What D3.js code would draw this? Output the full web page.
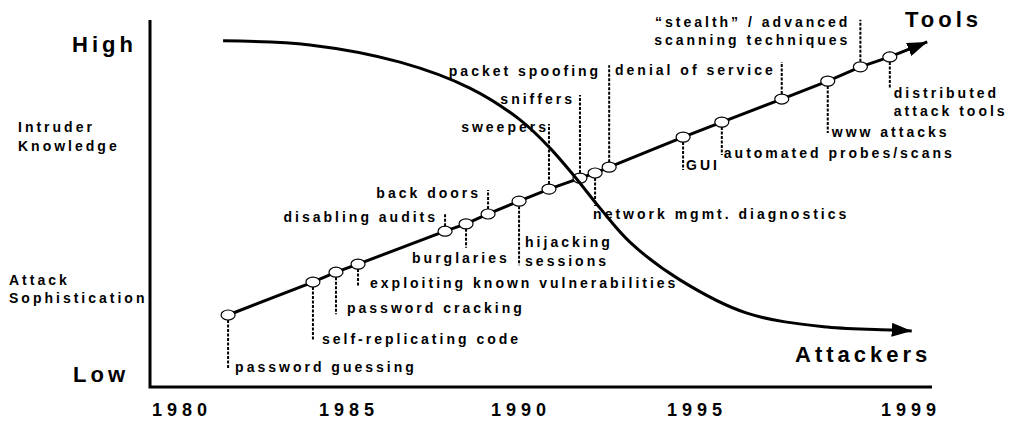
<!DOCTYPE html>
<html>
<head>
<meta charset="utf-8">
<script src="https://cdn.jsdelivr.net/npm/d3@7"></script>
<style>
body { margin: 0; background: #fff; }
text { font-family: "Liberation Sans", Arial, sans-serif; font-weight: bold; fill: #000; }
</style>
</head>
<body>
<div id="chart"></div>
<script>
// tick labels on the time axis
var tickYears = [1980, 1985, 1990, 1995, 1999];
var tickLabels = ["1980", "1985", "1990", "1995", "1999"];

// attack tools (sophistication rises over time)
var eventNames = [
	"password guessing",
	"self-replicating code",
	"password cracking",
	"exploiting known vulnerabilities",
	"disabling audits",
	"burglaries",
	"back doors",
	"hijacking\nsessions",
	"sweepers",
	"sniffers",
	"network mgmt. diagnostics",
	"packet spoofing",
	"GUI",
	"automated probes/scans",
	"denial of service",
	"www attacks",
	"\u201Cstealth\u201D / advanced\nscanning techniques",
	"distributed\nattack tools"
];
var eventYears = [1981.47, 1984.01, 1984.70, 1985.35, 1987.88, 1988.49, 1989.13, 1990.03, 1990.88,
	1991.76, 1992.19, 1992.59, 1994.69, 1995.52, 1996.64, 1997.50, 1998.11, 1998.66];
var eventLevels = [1.94, 2.84, 3.11, 3.33, 4.23, 4.43, 4.70, 5.05, 5.38,
	5.68, 5.82, 5.98, 6.80, 7.21, 7.84, 8.33, 8.72, 8.99];

var toolsEndYear = 1999.36;
var toolsEndLevel = 9.40;

// intruder knowledge (falls over time)
var attackerYears = [1981.32, 1983.92, 1986.57, 1988.60, 1990.06, 1990.91, 1991.62, 1992.33,
	1993.18, 1994.60, 1995.99, 1997.49, 1998.72, 1999.07];
var attackerLevels = [9.43, 9.32, 8.85, 8.14, 7.27, 6.50, 5.71, 4.86,
	3.93, 2.90, 1.99, 1.61, 1.53, 1.50];

// label placement relative to each marker: line end, text offset, anchor
var labelLayout = [
	{line: 54, dx: 7, dy: 57, anchor: "start"},
	{line: 58, dx: 9, dy: 62, anchor: "start"},
	{line: 42, dx: 11, dy: 41, anchor: "start"},
	{line: 23, dx: 12, dy: 24, anchor: "start"},
	{line: -17, dx: -7, dy: -9, anchor: "end"},
	{line: 24, dx: -54, dy: 39, anchor: "start"},
	{line: -24, dx: -7, dy: -16, anchor: "end"},
	{line: 64, dx: 6, dy: 46, anchor: "start"},
	{line: -65, dx: 0, dy: -57, anchor: "end"},
	{line: -83, dx: -5, dy: -74, anchor: "end"},
	{line: 33, dx: -2, dy: 46, anchor: "start"},
	{line: -102, dx: -8, dy: -91, anchor: "end"},
	{line: 33, dx: 3, dy: 33, anchor: "start"},
	{line: 33, dx: 2, dy: 36, anchor: "start"},
	{line: -37, dx: -6, dy: -24, anchor: "end"},
	{line: 52, dx: 4, dy: 56, anchor: "start"},
	{line: -47, dx: -10, dy: -40, anchor: "end"},
	{line: 31, dx: 4, dy: 41, anchor: "start"}
];

var svgWidth = 1009;
var svgHeight = 423;

var svg = d3.select("#chart")
	.append("svg")
	.attr("width", svgWidth)
	.attr("height", svgHeight);

var defs = svg.append("defs");
defs.append("marker")
	.attr("id", "arrow")
	.attr("viewBox", "0 0 20 14")
	.attr("refX", 20)
	.attr("refY", 7)
	.attr("markerUnits", "userSpaceOnUse")
	.attr("markerWidth", 20)
	.attr("markerHeight", 14)
	.attr("orient", "auto")
	.append("path")
	.attr("d", "M0,0 L20,7 L0,14 Z")
	.attr("fill", "#000");

// piecewise time scale, the last period is drawn wider
var xScale = d3.scaleLinear()
	.domain(tickYears)
	.range([179, 346, 518, 694, 908]);

var yScale = d3.scaleLinear()
	.domain([0, 10])
	.range([386, 20]);

// axis lines
svg.append("path")
	.attr("d", "M150,20 L150,387 L932,387")
	.attr("fill", "none")
	.attr("stroke", "#000")
	.attr("stroke-width", 3);

// year labels
var bottomAxis = d3.axisBottom(xScale)
	.tickValues(tickYears)
	.tickFormat((d, i) => tickLabels[i])
	.tickSize(0)
	.tickPadding(0);

var xAxis = svg.append("g")
	.attr("transform", "translate(0, 403)")
	.call(bottomAxis);
xAxis.select(".domain").remove();
xAxis.selectAll("text")
	.attr("dy", "0.71em")
	.style("font-family", "'Liberation Sans', Arial, sans-serif")
	.style("font-weight", "bold")
	.style("font-size", "18px")
	.style("letter-spacing", "5px")
	.attr("dx", "2.5px");

// left side labels
function addText(x, y, str, size, spacing, anchor) {
	return svg.append("text")
		.attr("x", x)
		.attr("y", y)
		.attr("text-anchor", anchor || "start")
		.style("font-size", size + "px")
		.style("letter-spacing", spacing + "px")
		.text(str);
}

addText(137, 52, "High", 22, 4, "end");
addText(73, 382, "Low", 22, 4);
addText(18, 132, "Intruder", 14, 3);
addText(18, 151, "Knowledge", 14, 3);
addText(9, 285, "Attack", 14, 3);
addText(9, 303, "Sophistication", 14, 3);
addText(905, 27, "Tools", 22, 4);
addText(795, 362, "Attackers", 22, 4);

// tools line
var events = eventNames.map((name, i) => ({
	name: name,
	year: eventYears[i],
	level: eventLevels[i],
	layout: labelLayout[i]
}));

var toolsPoints = events.map(d => [xScale(d.year), yScale(d.level)]);
toolsPoints.push([xScale(toolsEndYear), yScale(toolsEndLevel)]);

svg.append("path")
	.attr("d", d3.line()(toolsPoints))
	.attr("fill", "none")
	.attr("stroke", "#000")
	.attr("stroke-width", 3)
	.attr("marker-end", "url(#arrow)");

// dashed leader lines
svg.selectAll(".leader")
	.data(events)
	.enter()
	.append("line")
	.attr("class", "leader")
	.attr("x1", d => xScale(d.year))
	.attr("x2", d => xScale(d.year))
	.attr("y1", d => yScale(d.level) + (d.layout.line > 0 ? 5 : -5))
	.attr("y2", d => yScale(d.level) + d.layout.line)
	.attr("stroke", "#000")
	.attr("stroke-width", 2)
	.attr("stroke-dasharray", "3,1.5");

// event labels
var labels = svg.selectAll(".evlabel")
	.data(events)
	.enter()
	.append("text")
	.attr("class", "evlabel")
	.attr("text-anchor", d => d.layout.anchor)
	.attr("transform", d => `translate(${xScale(d.year) + d.layout.dx}, ${yScale(d.level) + d.layout.dy})`)
	.style("font-size", "14px")
	.style("letter-spacing", "3px");

labels.selectAll("tspan")
	.data(d => d.name.split("\n"))
	.enter()
	.append("tspan")
	.attr("x", 0)
	.attr("y", (d, i) => i * 18.5)
	.text(d => d);

// markers
svg.selectAll(".dot")
	.data(events)
	.enter()
	.append("ellipse")
	.attr("class", "dot")
	.attr("cx", d => xScale(d.year))
	.attr("cy", d => yScale(d.level))
	.attr("rx", 7)
	.attr("ry", 5)
	.attr("fill", "#fff")
	.attr("stroke", "#000")
	.attr("stroke-width", 1.2);

// attackers curve
var attackerLine = d3.line()
	.x((d, i) => xScale(attackerYears[i]))
	.y(d => yScale(d))
	.curve(d3.curveCatmullRom.alpha(0.5));

svg.append("path")
	.attr("d", attackerLine(attackerLevels))
	.attr("fill", "none")
	.attr("stroke", "#000")
	.attr("stroke-width", 3)
	.attr("marker-end", "url(#arrow)");
</script>
</body>
</html>
